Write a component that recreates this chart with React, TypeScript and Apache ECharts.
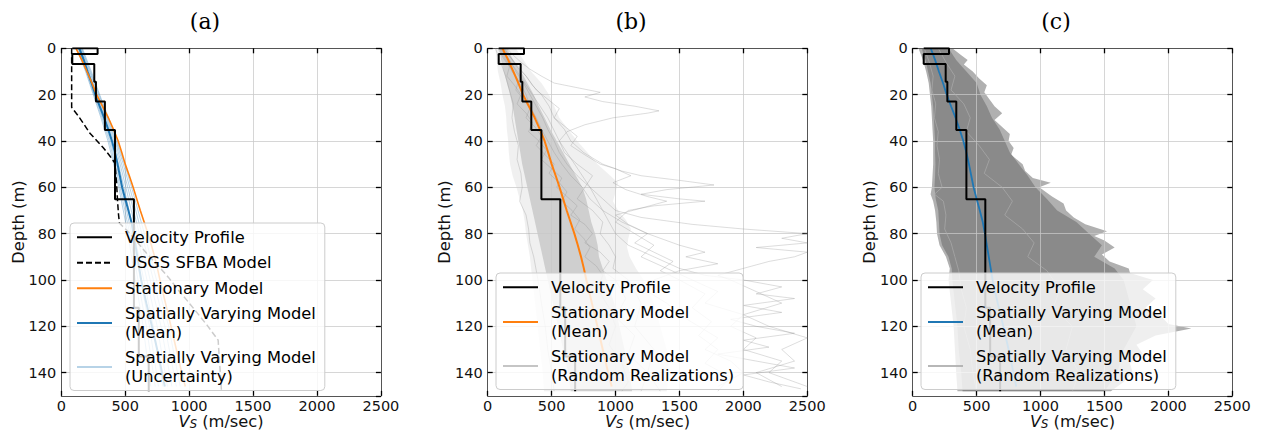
import React, { useEffect, useRef } from 'react';
import * as echarts from 'echarts';

type P = [number, number]; // [Vs (m/sec), depth (m)]

const FONT = 'DejaVu Sans';
const VS_MIN = 0;
const VS_MAX = 2500;
const VS_STEP = 500;
const DEPTH_MIN = 0;
const DEPTH_MAX = 150;
const DEPTH_STEP = 20;
const PANEL_TITLES = ['(a)', '(b)', '(c)'];

// Measured velocity profile (step)
const velocityProfile: P[] = [
  [86, 0], [284, 0], [284, 2.5], [86, 2.5], [86, 6.8], [258, 6.8], [258, 14.4], [271, 14.4],
  [271, 23], [341, 23], [341, 35.3], [420, 35.3], [420, 65.2], [568, 65.2], [568, 112],
  [606, 112], [606, 133], [684, 133], [684, 148],
];

// USGS SFBA model
const usgsModel: P[] = [
  [81, 0], [81, 25.5], [130, 29], [180, 33], [224, 36.7], [280, 40], [330, 43], [380, 46.5],
  [420, 49.6], [432, 58], [440, 66], [448, 72], [455, 75.5], [520, 79], [600, 84], [667, 88.5],
  [760, 94], [840, 99], [910, 104], [980, 108.6], [1060, 114], [1140, 119.5], [1227, 126],
  [1236, 134], [1245, 141], [1253, 148],
];

// Stationary model (mean)
const stationaryMean: P[] = [
  [115, 0], [160, 5], [200, 10], [240, 15], [276, 20], [322, 25], [368, 30], [408, 35], [445, 40],
  [473, 45], [500, 50], [532, 55], [562, 60], [590, 65], [618, 70], [648, 75], [678, 80], [705, 85],
  [730, 90], [752, 95], [772, 100], [815, 110], [858, 120], [900, 130], [942, 140], [970, 146],
];

// Spatially varying model (mean)
const spatialMean: P[] = [
  [141, 0], [175, 5], [205, 10], [237, 15], [266, 20], [300, 25], [335, 30], [367, 35], [396, 40],
  [420, 45], [440, 50], [458, 55], [476, 60], [500, 65], [525, 70], [548, 75], [565, 80], [595, 90],
  [625, 100], [665, 110], [709, 120], [750, 130], [788, 140], [810, 146],
];

// Spatially varying model (uncertainty) curves
const uncertainty1: P[] = [[120, 0], [190, 10], [250, 20], [310, 30], [365, 40], [410, 50], [450, 60], [520, 80], [580, 100], [640, 120], [700, 146]];
const uncertainty2: P[] = [[130, 0], [195, 10], [255, 20], [318, 30], [375, 40], [420, 50], [460, 60], [535, 80], [600, 100], [665, 120], [735, 146]];
const uncertainty3: P[] = [[135, 0], [200, 10], [262, 20], [325, 30], [385, 40], [430, 50], [470, 60], [550, 80], [620, 100], [690, 120], [760, 146]];
const uncertainty4: P[] = [[145, 0], [210, 10], [272, 20], [340, 30], [400, 40], [448, 50], [490, 60], [570, 80], [645, 100], [720, 120], [795, 146]];
const uncertainty5: P[] = [[150, 0], [215, 10], [280, 20], [348, 30], [410, 40], [460, 50], [505, 60], [590, 80], [670, 100], [750, 120], [830, 146]];
const uncertainty6: P[] = [[155, 0], [222, 10], [288, 20], [355, 30], [420, 40], [472, 50], [520, 60], [610, 80], [695, 100], [780, 120], [865, 146]];
const uncertainty7: P[] = [[160, 0], [228, 10], [295, 20], [362, 30], [428, 40], [485, 50], [535, 60], [630, 80], [720, 100], [810, 120], [900, 146]];
const uncertainty8: P[] = [[165, 0], [235, 10], [300, 20], [370, 30], [435, 40], [495, 50], [550, 60], [650, 80], [745, 100], [840, 120], [930, 146]];
const uncertaintyCurves = [uncertainty1, uncertainty2, uncertainty3, uncertainty4, uncertainty5, uncertainty6, uncertainty7, uncertainty8];

// Panel (b): stationary random realizations — haze envelopes (outer, inner)
const bOuterLeft: P[] = [
  [60, 0], [70, 5], [80, 10], [100, 15], [115, 20], [135, 25], [145, 30], [150, 35], [160, 40], [165, 45],
  [175, 50], [195, 55], [225, 60], [250, 65], [275, 70], [290, 75], [300, 80], [315, 85], [330, 90],
  [340, 95], [350, 100], [370, 110], [390, 120], [410, 130], [430, 140], [440, 148],
];
const bOuterRight: P[] = [
  [220, 0], [280, 5], [340, 10], [420, 15], [480, 20], [520, 25], [560, 30], [630, 35],
  [700, 40], [780, 45], [860, 50], [940, 54], [1020, 58], [1000, 62], [980, 66], [1020, 70],
  [1080, 74], [1120, 78], [1100, 82], [1090, 86], [1110, 90], [1160, 95], [1220, 100], [1300, 110],
  [1350, 120], [1400, 130], [1420, 140], [1400, 148],
];
const bInnerLeft: P[] = [
  [90, 0], [105, 5], [125, 10], [150, 15], [175, 20], [195, 25], [210, 30], [225, 35], [240, 40],
  [255, 45], [270, 50], [290, 55], [310, 60], [330, 65], [350, 70], [370, 75], [390, 80], [410, 85],
  [430, 90], [450, 95], [470, 100], [510, 110], [550, 120], [590, 130], [630, 140], [650, 148],
];
const bInnerRight: P[] = [
  [150, 0], [200, 5], [260, 10], [310, 15], [360, 20], [400, 25], [445, 30], [490, 35], [540, 40],
  [590, 45], [640, 50], [690, 55], [740, 60], [770, 65], [790, 70], [810, 75], [840, 80], [860, 85],
  [870, 90], [900, 95], [930, 100], [990, 110], [1030, 120], [1070, 130], [1110, 140], [1130, 148],
];

// Panel (b): individual realizations
const bReal1: P[] = [
  [150, 0], [200, 3], [260, 6], [330, 9], [420, 12], [520, 15], [700, 17], [880, 19], [760, 21], [900, 23],
  [1150, 25], [1340, 27], [1250, 28], [980, 30], [760, 33], [620, 36], [560, 40], [600, 45], [700, 50],
  [820, 55], [760, 60], [700, 65], [820, 70], [900, 75], [880, 80], [950, 85], [1000, 90], [980, 95],
  [1100, 100], [1200, 110], [1150, 120], [1300, 130], [1250, 140], [1350, 148],
];
const bReal2: P[] = [
  [130, 0], [180, 4], [230, 8], [300, 12], [350, 16], [420, 20], [480, 25], [520, 30], [600, 35],
  [650, 40], [750, 45], [900, 50], [1050, 53], [1200, 55], [1500, 57], [1770, 59], [1400, 61],
  [1200, 63], [1500, 65], [1700, 66], [1300, 68], [1100, 70], [1000, 75], [1150, 80], [1300, 85],
  [1200, 90], [1400, 95], [1600, 100], [1800, 105], [1700, 110], [2000, 115], [1900, 120],
  [2100, 125], [2000, 130], [2300, 135], [2200, 140], [2500, 146],
];
const bReal3: P[] = [
  [110, 0], [170, 5], [220, 10], [280, 15], [330, 20], [380, 25], [430, 30], [470, 35], [520, 40],
  [560, 45], [620, 50], [700, 55], [800, 60], [900, 65], [1000, 70], [1200, 73], [1600, 76],
  [2000, 78], [2500, 80], [2300, 82], [2500, 84], [2100, 86], [2500, 88], [2400, 90], [2200, 92],
  [2000, 95], [1800, 98], [1900, 100], [2100, 105], [2300, 110], [2000, 115], [2200, 120],
  [2500, 125], [2300, 130], [2400, 135], [2100, 140], [2300, 146],
];
const bReal4: P[] = [
  [90, 0], [140, 5], [200, 10], [250, 15], [300, 20], [330, 25], [380, 30], [420, 35], [470, 40],
  [520, 45], [580, 50], [650, 55], [740, 60], [800, 65], [900, 70], [1050, 75], [1250, 80], [1500, 85],
  [1700, 88], [1550, 90], [1800, 93], [1500, 96], [1300, 100], [1250, 105], [1400, 110], [1500, 115],
  [1650, 120], [1800, 125], [1700, 130], [1900, 135], [2000, 140], [1800, 146],
];
const bReal5: P[] = [
  [60, 0], [100, 6], [140, 12], [170, 18], [200, 24], [190, 30], [210, 36], [240, 42], [230, 48],
  [260, 54], [270, 60], [250, 66], [300, 72], [320, 78], [330, 84], [360, 90], [380, 96], [400, 102],
  [420, 110], [450, 120], [470, 130], [500, 140], [520, 148],
];
const bReal6: P[] = [
  [100, 0], [230, 10], [350, 20], [470, 30], [560, 40], [680, 50], [800, 60], [900, 70], [1000, 80],
  [1100, 85], [1300, 90], [1500, 95], [1700, 98], [2000, 100], [2300, 103], [2100, 106], [2400, 108],
  [2000, 111], [2300, 114], [1900, 117], [2100, 120], [2400, 123], [2000, 126], [2200, 129],
  [1800, 132], [2100, 135], [2400, 138], [2000, 141], [2200, 144], [2450, 147],
];
const bReal7: P[] = [
  [120, 0], [210, 6], [300, 12], [380, 18], [470, 22], [560, 26], [520, 30], [610, 34], [700, 38],
  [650, 42], [760, 46], [880, 50], [1000, 52], [1120, 55], [980, 58], [1080, 61], [1250, 64],
  [1400, 66], [1200, 69], [1000, 72], [1100, 76], [1250, 80], [1150, 84], [1300, 88], [1450, 92],
  [1350, 96], [1500, 100], [1700, 106], [1600, 112], [1750, 118], [1650, 124], [1800, 130],
  [1700, 136], [1900, 142], [1800, 148],
];
const bReal8: P[] = [
  [80, 0], [120, 4], [170, 8], [150, 12], [210, 16], [260, 20], [230, 24], [300, 28], [350, 32],
  [320, 36], [400, 40], [460, 44], [420, 48], [500, 52], [580, 56], [540, 60], [620, 64], [700, 68],
  [650, 72], [760, 76], [820, 80], [760, 84], [880, 88], [950, 92], [900, 96], [1000, 100],
  [1080, 108], [1000, 116], [1150, 124], [1100, 132], [1250, 140], [1200, 148],
];
const bReal9: P[] = [
  [100, 0], [150, 5], [190, 10], [240, 14], [220, 18], [280, 22], [330, 26], [300, 30], [370, 34],
  [420, 38], [380, 42], [450, 46], [520, 50], [480, 54], [560, 58], [620, 62], [580, 66], [660, 70],
  [720, 74], [680, 78], [750, 82], [800, 86], [760, 90], [850, 94], [900, 98], [860, 104],
  [950, 112], [1000, 120], [950, 128], [1050, 136], [1100, 144], [1050, 148],
];
const bRealizations = [bReal1, bReal2, bReal3, bReal4, bReal5, bReal6, bReal7, bReal8, bReal9];

// Panel (c): spatially varying random realizations — cloud envelopes
const cOuterLeft: P[] = [
  [45, 0], [80, 5], [105, 10], [125, 15], [135, 20], [145, 25], [150, 30], [155, 35], [160, 40],
  [160, 45], [160, 50], [155, 55], [150, 60], [140, 63], [160, 66], [175, 70], [185, 75], [190, 80],
  [210, 85], [260, 90], [290, 95], [280, 100], [300, 110], [320, 120], [330, 130], [340, 140], [350, 148],
];
const cOuterRight: P[] = [
  [310, 0], [380, 3], [430, 5], [400, 7], [470, 10], [520, 13], [580, 16], [560, 19], [600, 22],
  [640, 25], [700, 28], [640, 31], [700, 34], [760, 37], [750, 40], [790, 43], [770, 46], [860, 50],
  [880, 53], [940, 56], [1080, 58], [990, 60], [1090, 64], [1180, 67], [1200, 70], [1260, 73],
  [1350, 76], [1520, 79], [1420, 81], [1500, 83], [1580, 86], [1480, 89], [1540, 92], [1690, 95],
  [1700, 97], [1880, 100], [1800, 104], [1900, 108], [1820, 112], [1950, 116], [2000, 119],
  [2180, 121], [1900, 124], [1750, 128], [1800, 132], [1700, 136], [1720, 140], [1650, 144], [1550, 148],
];
const cInnerLeft: P[] = [
  [70, 0], [100, 5], [120, 10], [140, 15], [150, 20], [160, 25], [165, 30], [170, 35], [175, 40],
  [175, 45], [178, 50], [175, 55], [170, 60], [180, 65], [200, 70], [205, 75], [210, 80], [230, 85],
  [280, 90], [305, 95], [310, 100], [330, 110], [350, 120], [360, 130], [380, 140], [390, 148],
];
const cInnerRight: P[] = [
  [280, 0], [340, 5], [420, 10], [500, 15], [530, 20], [580, 25], [620, 30], [680, 35], [720, 40],
  [760, 45], [830, 50], [900, 55], [960, 60], [1050, 65], [1130, 70], [1280, 75], [1380, 80],
  [1480, 85], [1420, 90], [1580, 95], [1650, 100], [1700, 110], [1750, 120], [1650, 130], [1600, 140],
  [1500, 148],
];
// Panel (c): a few lighter individual realizations (texture)
const cReal1: P[] = [
  [90, 0], [130, 6], [160, 12], [150, 18], [180, 24], [170, 30], [200, 36], [190, 42], [210, 48],
  [200, 54], [230, 60], [170, 63], [240, 66], [260, 72], [250, 78], [300, 84], [330, 90], [360, 96],
  [380, 104], [420, 112], [400, 120], [450, 130], [470, 140], [500, 148],
];
const cReal2: P[] = [
  [200, 0], [260, 6], [330, 12], [300, 18], [400, 24], [450, 30], [420, 36], [520, 42], [600, 48],
  [560, 54], [700, 60], [780, 66], [720, 72], [860, 78], [950, 84], [900, 90], [1050, 96],
  [1150, 104], [1100, 112], [1250, 120], [1200, 130], [1300, 140], [1250, 148],
];
const cRealizations = [cReal1, cReal2];

const LEGEND_A = [
  'Velocity Profile',
  'USGS SFBA Model',
  'Stationary Model',
  'Spatially Varying Model\n(Mean)',
  'Spatially Varying Model\n(Uncertainty)',
];
const LEGEND_B = ['Velocity Profile', 'Stationary Model\n(Mean)', 'Stationary Model\n(Random Realizations)'];
const LEGEND_C = ['Velocity Profile', 'Spatially Varying Model\n(Mean)', 'Spatially Varying Model\n(Random Realizations)'];

// layout (pixels)
const GRID_LEFTS = [61.3, 487.7, 912.7];
const GRID_WIDTH = 319.6;
const GRID_TOP = 48.3;
const GRID_HEIGHT = 347.5;
const TITLE_X = [205, 631, 1056];
const LEGEND_POS = [
  { left: 70, top: 223 },
  { left: 496, top: 273 },
  { left: 921, top: 273 },
];

const TICK = { inside: true, length: 5, lineStyle: { color: '#000', width: 1.3 } };
const AXIS_LINE = { show: true, onZero: false, lineStyle: { color: '#555', width: 1 } };
const GRID_LINE = { show: true, lineStyle: { color: 'rgba(200,200,200,0.75)', width: 1 } };
const plain = (v: number) => String(v);

function buildOption() {
  const grid: any[] = [];
  const xAxis: any[] = [];
  const yAxis: any[] = [];
  const series: any[] = [];

  for (let i = 0; i < 3; i++) {
    grid.push({
      left: GRID_LEFTS[i], top: GRID_TOP, width: GRID_WIDTH, height: GRID_HEIGHT,
      containLabel: false, outerBoundsMode: 'none',
    });
    xAxis.push({
      type: 'value', gridIndex: i, min: VS_MIN, max: VS_MAX, interval: VS_STEP, position: 'bottom', z: 3,
      axisLine: AXIS_LINE, axisTick: TICK, splitLine: GRID_LINE,
      axisLabel: { color: '#111', fontSize: 14.5, fontFamily: FONT, margin: 3, formatter: plain },
      name: '{v|V}{s|S}{t| (m/sec)}', nameLocation: 'middle', nameGap: 17, nameMoveOverlap: false,
      nameTextStyle: {
        color: '#111',
        rich: {
          v: { fontSize: 16.3, fontStyle: 'italic', fontFamily: FONT, lineHeight: 17, color: '#111' },
          s: { fontSize: 11.5, fontStyle: 'italic', fontFamily: FONT, lineHeight: 11, verticalAlign: 'bottom', color: '#111' },
          t: { fontSize: 16.3, fontFamily: FONT, lineHeight: 17, color: '#111' },
        },
      },
    });
    xAxis.push({
      type: 'value', gridIndex: i, min: VS_MIN, max: VS_MAX, interval: VS_STEP, position: 'top', z: 3,
      axisLine: AXIS_LINE, axisTick: TICK, splitLine: { show: false }, axisLabel: { show: false },
    });
    yAxis.push({
      type: 'value', gridIndex: i, min: DEPTH_MIN, max: DEPTH_MAX, interval: DEPTH_STEP, inverse: true,
      position: 'left', z: 3,
      axisLine: AXIS_LINE, axisTick: TICK, splitLine: GRID_LINE,
      axisLabel: { color: '#111', fontSize: 14.5, fontFamily: FONT, margin: 5, showMaxLabel: false, formatter: plain },
      name: 'Depth (m)', nameLocation: 'middle', nameGap: 35, nameMoveOverlap: false,
      nameTextStyle: { color: '#111', fontSize: 16.3, fontFamily: FONT },
    });
    yAxis.push({
      type: 'value', gridIndex: i, min: DEPTH_MIN, max: DEPTH_MAX, interval: DEPTH_STEP, inverse: true,
      position: 'right', z: 3,
      axisLine: AXIS_LINE, axisTick: TICK, splitLine: { show: false }, axisLabel: { show: false },
    });
  }

  const line = (name: string, data: P[], panel: number, color: string, width: number, type: any = 'solid') => ({
    type: 'line', name, data, xAxisIndex: panel * 2, yAxisIndex: panel * 2,
    symbol: 'none', showSymbol: false, silent: true, clip: true,
    lineStyle: { color, width, type }, itemStyle: { color },
  });

  const poly = (left: P[], right: P[], panel: number, fill: string) => {
    const pts: P[] = left.concat(right.slice().reverse());
    return {
      type: 'custom', name: '_cloud', coordinateSystem: 'cartesian2d',
      xAxisIndex: panel * 2, yAxisIndex: panel * 2, silent: true, clip: true,
      data: pts,
      renderItem: (params: any, api: any) => {
        if (params.dataIndex !== 0) return null;
        return {
          type: 'polygon',
          shape: { points: pts.map((p) => api.coord(p)) },
          style: { fill, stroke: 'none' },
        };
      },
    };
  };

  // Panel (a)
  uncertaintyCurves.forEach((c) => series.push(line('Spatially Varying Model\n(Uncertainty)', c, 0, 'rgba(31,119,180,0.32)', 1)));
  series.push(line('Spatially Varying Model\n(Mean)', spatialMean, 0, '#1f77b4', 2));
  series.push(line('Stationary Model', stationaryMean, 0, '#ff7f0e', 1.6));
  series.push(line('USGS SFBA Model', usgsModel, 0, '#000', 1.5, [6, 3]));
  series.push(line('Velocity Profile', velocityProfile, 0, '#000', 2));

  // Panel (b)
  series.push(poly(bOuterLeft, bOuterRight, 1, 'rgba(150,150,150,0.14)'));
  series.push(poly(bInnerLeft, bInnerRight, 1, 'rgba(120,120,120,0.27)'));
  bRealizations.forEach((c) => series.push(line('Stationary Model\n(Random Realizations)', c, 1, 'rgba(140,140,140,0.5)', 0.6)));
  series.push(line('Stationary Model\n(Mean)', stationaryMean, 1, '#ff7f0e', 2));
  series.push(line('Velocity Profile', velocityProfile, 1, '#000', 2));

  // Panel (c)
  series.push(poly(cOuterLeft, cOuterRight, 2, '#b0b0b0'));
  series.push(poly(cInnerLeft, cInnerRight, 2, '#8a8a8a'));
  cRealizations.forEach((c) => series.push(line('Spatially Varying Model\n(Random Realizations)', c, 2, 'rgba(175,175,175,0.9)', 0.7)));
  series.push(line('Spatially Varying Model\n(Mean)', spatialMean, 2, '#1f77b4', 1.8));
  series.push(line('Velocity Profile', velocityProfile, 2, '#000', 2));

  const legendBase = {
    orient: 'vertical', itemWidth: 35, itemHeight: 12, itemGap: 7, padding: [5, 9, 5, 6],
    backgroundColor: 'rgba(255,255,255,0.8)', borderColor: '#cccccc', borderWidth: 1, borderRadius: 4,
    selectedMode: false, itemStyle: { opacity: 0 },
    textStyle: { fontSize: 16.3, fontFamily: FONT, color: '#000', lineHeight: 18.5, padding: [0, 0, 0, 8] },
  };
  const legend = [LEGEND_A, LEGEND_B, LEGEND_C].map((names, i) => ({
    ...legendBase, ...LEGEND_POS[i], data: names,
  }));

  const graphic = PANEL_TITLES.map((t, i) => ({
    type: 'text', x: TITLE_X[i], y: 21, silent: true,
    style: { text: t, fontSize: 22, fontFamily: 'DejaVu Serif', fill: '#000', align: 'center', verticalAlign: 'middle' },
  }));

  return {
    animation: false,
    backgroundColor: '#ffffff',
    textStyle: { fontFamily: FONT },
    grid, xAxis, yAxis, series, legend, graphic,
    tooltip: { show: false },
  };
}

export default function App() {
  const ref = useRef<HTMLDivElement>(null);
  useEffect(() => {
    if (!ref.current) return;
    const chart = echarts.init(ref.current, undefined, { renderer: 'svg' });
    chart.setOption(buildOption() as any);
    return () => chart.dispose();
  }, []);
  return <div ref={ref} style={{ width: 1265, height: 438, position: 'absolute', left: 0, top: 0 }} />;
}
